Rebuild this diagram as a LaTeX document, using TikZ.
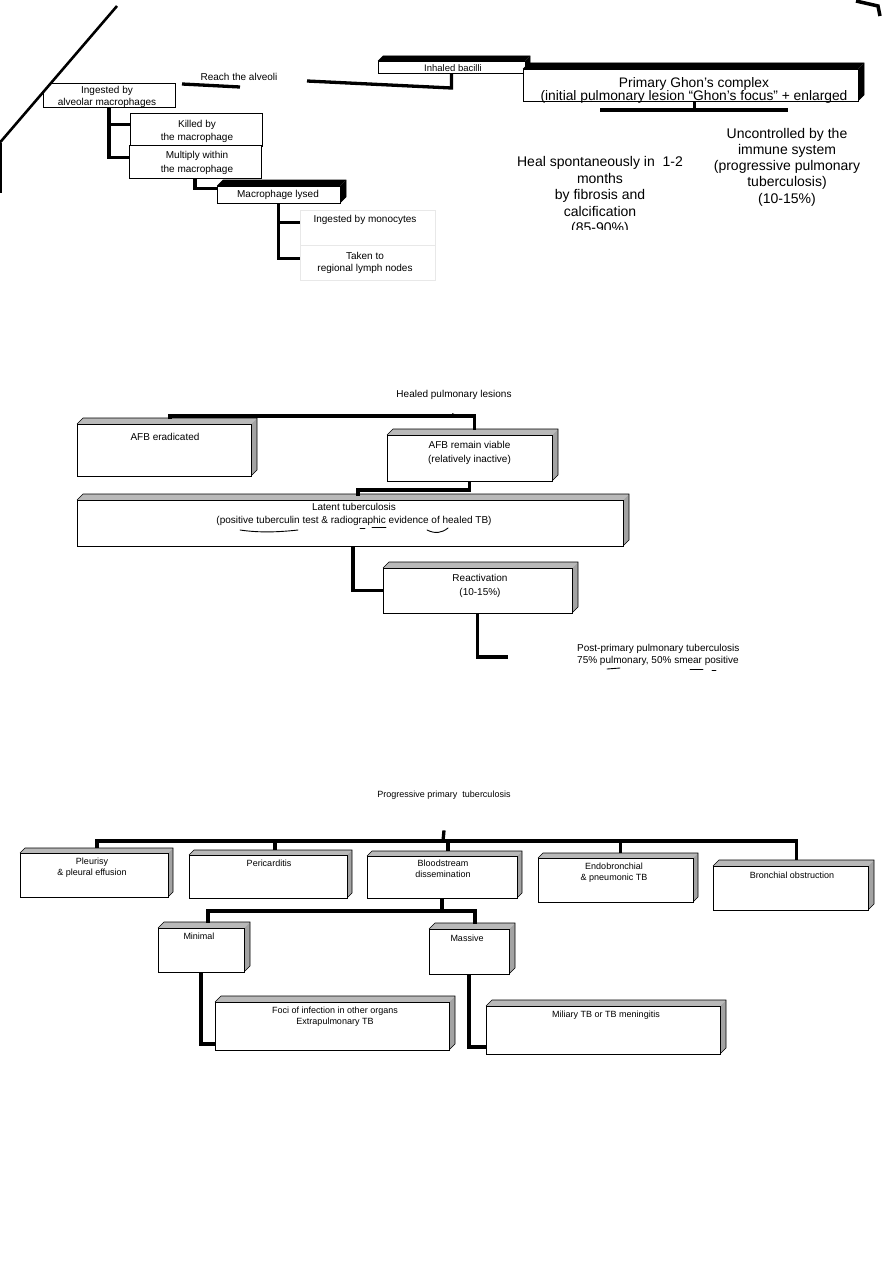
\documentclass[tikz,border=0pt]{standalone}
\usepackage{fontspec}
\setmainfont{Liberation Sans}
\newcommand\tightlines{\lineskiplimit=-30pt\relax}
\tikzset{
 conn/.style={line width=3.3pt, line join=miter},
 facebox/.style={draw, fill=white, line width=0.8pt, inner sep=0pt, outer sep=0pt},
 plainbox/.style={draw, fill=white, line width=0.9pt, inner sep=0pt, outer sep=0pt},
 faintbox/.style={draw=gray!18, line width=0.6pt, inner sep=0pt, outer sep=0pt},
 graytop/.style={fill=gray!55},
 grayside/.style={fill=gray!72},
 blacktop/.style={fill=black},
 blackside/.style={fill=black},
 cubeedge/.style={line width=0.6pt, line join=miter},
 txa/.style={font=\fontsize{10}{12.5}\selectfont, inner sep=0pt, align=center},
 txb/.style={font=\fontsize{14}{16.5}\selectfont, inner sep=0pt, align=center},
 txc/.style={font=\fontsize{9}{11}\selectfont, inner sep=0pt, align=center},
 penmark/.style={line width=0.9pt, line cap=round},
}
% #1 face style prefix, #2 name, #3 x1, #4 y1, #5 x2, #6 y2, #7 depth
\newcommand\cubeshape[7]{%
 \fill[#1top] (#3,#4) -- ({#3+#7},{#4-#7}) -- ({#5+#7},{#4-#7}) -- (#5,#4) -- cycle;
 \fill[#1side] (#5,#4) -- ({#5+#7},{#4-#7}) -- ({#5+#7},{#6-#7}) -- (#5,#6) -- cycle;
 \draw[cubeedge] (#3,#4) -- ({#3+#7},{#4-#7}) -- ({#5+#7},{#4-#7}) -- ({#5+#7},{#6-#7}) -- (#5,#6);
 \node[facebox, minimum width={#5-#3}, minimum height={#6-#4}] (#2) at ({(#3+#5)/2},{(#4+#6)/2}) {};
}
\begin{document}
\begin{tikzpicture}[x=1pt,y=-1pt]
\useasboundingbox (0,0) rectangle (893,1263);
\fill[white] (0,0) rectangle (893,1263);

% ================= Section 1 =================
\node[plainbox, minimum width=132, minimum height=24] (ing) at (109,95) {};
\node[txa, font=\fontsize{10}{12}\selectfont] (ingt) at (107,97) {Ingested by\\alveolar macrophages};
\node[plainbox, minimum width=132, minimum height=33] (killed) at (196,129.5) {};
\node[txa, font=\fontsize{10}{13}\selectfont] (killedt) at (197,131) {Killed by\\the macrophage};
\node[plainbox, minimum width=132, minimum height=33] (mult) at (195,161.5) {};
\node[txa, font=\fontsize{10}{14}\selectfont] (multt) at (197,163) {Multiply within\\the macrophage};

% page edge shadow
\fill[white] (0,0) -- (117,6) -- (-3,146) -- cycle;
\draw[line width=2.6pt] (117,6) -- (-3,146);
\draw[line width=2pt] (1,143) -- (1,193);
\draw[line width=3.5pt] (856,1) -- (878,6) -- (880,16);

% inhaled and Ghon
\cubeshape{black}{inh}{378}{61}{525}{73}{5}
\node[txa, font=\fontsize{9.5}{11}\selectfont] (inht) at (453,68) {Inhaled bacilli};
\cubeshape{black}{ghon}{523}{69}{858}{101}{6}
\node[txb, font=\fontsize{13.8}{13.2}\selectfont\tightlines] (ghont) at (694,90.5)
  {Primary Ghon's complex\\(initial pulmonary lesion “Ghon's focus” + enlarged};

% reach the alveoli
\node[txa] (reach) at (239,77) {Reach the alveoli};
\coordinate (ra) at (182,84);
\coordinate (rb) at (240,87);
\draw[conn] (ra) -- (rb);
\coordinate (reachend) at (307,81);
\draw[conn] (inh.south) -- ++(0,15) -- (reachend);

% Ghon split bar
\coordinate (gl) at (600,110);
\coordinate (gr) at (788,110);
\draw[conn] ([xshift=4pt]ghon.south) -- ++(0,9);
\draw[conn] (gl) -- (gr);

% outcomes
\begin{scope}
\clip (480,140) rectangle (720,229);
\node[txb] (heal) at (600,196) {Heal spontaneously in\ \ 1-2\\months\\by fibrosis and\\calcification\\(85-90\%)};
\end{scope}
\node[txb, font=\fontsize{14}{16.3}\selectfont] (unctl) at (787,167) {Uncontrolled by the\\immune system\\(progressive pulmonary\\tuberculosis)\\(10-15\%)};

% macrophage lysed
\cubeshape{black}{lysed}{217}{186}{340}{203}{6}
\node[txa] (lysedt) at (278,195) {Macrophage lysed};

% faint boxes
\node[faintbox, minimum width=135, minimum height=35] (mono) at (367.5,227.5) {};
\node[txa] (monot) at (365,220) {Ingested by monocytes};
\node[faintbox, minimum width=135, minimum height=35] (lymph) at (367.5,262.5) {};
\node[txa, font=\fontsize{10}{12}\selectfont] (lympht) at (365,263) {Taken to\\regional lymph nodes};

% section 1 connectors
\draw[conn, line width=3.6pt] (ing.south) |- ([yshift=5pt]killed.west);
\draw[conn, line width=3.6pt] (ing.south) |- ([yshift=4pt]mult.west);
\draw[conn, line width=3.6pt] (mult.south) |- ([yshift=6pt]lysed.west);
\draw[conn, line width=3.6pt] (lysed.south) |- ([yshift=5pt]mono.west);
\draw[conn, line width=3.6pt] (lysed.south) |- ([yshift=4pt]lymph.west);

% ================= Section 2 =================
\node[txa] (healed) at (454,395) {Healed pulmonary lesions};
\cubeshape{gray}{afbe}{77}{424}{251}{476}{6}
\node[txa] (afbet) at (165,437) {AFB eradicated};
\cubeshape{gray}{viable}{387}{435}{552}{481}{6}
\node[txa, font=\fontsize{10}{14}\selectfont] (viablet) at (469.5,453) {AFB remain viable\\(relatively inactive)};
\cubeshape{gray}{latent}{77}{500}{623}{546}{6}
\node[txa, font=\fontsize{10}{12.5}\selectfont] (latentt) at (354,514.5) {Latent tuberculosis\\(positive tuberculin test \& radiographic evidence of healed TB)};
\cubeshape{gray}{react}{383}{568}{572}{613}{6}
\node[txa, font=\fontsize{10}{14}\selectfont] (reactt) at (480,585.5) {Reactivation\\(10-15\%)};
\node[txa, anchor=west, align=left, font=\fontsize{10}{12}\selectfont] (post) at (577,654.5) {Post-primary pulmonary tuberculosis\\75\% pulmonary, 50\% smear positive};

\coordinate (hj) at (453,416);
\draw[conn] ([yshift=-14pt]healed.south) -- (hj);
\draw[conn] ([xshift=6pt,yshift=5pt]afbe.north) |- (hj) -| ([xshift=5pt,yshift=5pt]viable.north);
\draw[conn] (viable.south) -- ++(0,9) -| ([xshift=8pt,yshift=4pt]latent.north);
\draw[conn] ([xshift=3pt]latent.south) |- (react.west);
\coordinate (postend) at (508,657);
\draw[conn] (react.south) |- (postend);

% pen marks
\draw[penmark] (240,530) .. controls (260,533) and (280,532) .. (298,530);
\draw[penmark] (360,528) -- (365,528);
\draw[penmark] (372,527) -- (386,527);
\draw[penmark] (427,530) .. controls (435,534) and (442,533) .. (448,528);
\draw[penmark] (607,669) -- (620,668);
\draw[penmark] (690,669) -- (703,669);
\draw[penmark] (712,670) -- (716,670);

% ================= Section 3 =================
\node[txc] (ptitle) at (444,795) {Progressive primary\ \ tuberculosis};
\cubeshape{gray}{pleu}{20}{853}{168}{897}{5}
\node[txc] (pleut) at (92,868) {Pleurisy\\\& pleural effusion};
\cubeshape{gray}{peri}{189}{855}{347}{898}{5}
\node[txc] (perit) at (269,863) {Pericarditis};
\cubeshape{gray}{blood}{367}{856}{517}{898}{5}
\node[txc] (bloodt) at (443,869) {Bloodstream\\dissemination};
\cubeshape{gray}{endo}{538}{858}{693}{902}{5}
\node[txc] (endot) at (614,872.5) {Endobronchial\\\& pneumonic TB};
\cubeshape{gray}{bronch}{713}{866}{868}{910}{6}
\node[txc] (broncht) at (792,875) {Bronchial obstruction};

\cubeshape{gray}{minimal}{158}{928}{244}{972}{6}
\node[txc] (minimalt) at (199,936) {Minimal};
\cubeshape{gray}{massive}{429}{929}{509}{974}{6}
\node[txc] (massivet) at (467,938) {Massive};
\cubeshape{gray}{foci}{215}{1002}{449}{1050}{6}
\node[txc] (focit) at (335,1017) {Foci of infection in other organs\\Extrapulmonary TB};
\cubeshape{gray}{miliary}{486}{1006}{720}{1054}{6}
\node[txc] (miliaryt) at (606,1015) {Miliary TB or TB meningitis};

\coordinate (pj) at (443,841);
\draw[conn] ([yshift=-31pt]ptitle.south) -- (pj);
\draw[conn] (pj) -| ([xshift=3pt,yshift=5pt]pleu.north);
\draw[conn] (pj) -| ([xshift=7pt,yshift=5pt]peri.north);
\draw[conn] (pj) -| ([xshift=6pt,yshift=5pt]blood.north);
\draw[conn] (pj) -| ([xshift=5pt,yshift=5pt]endo.north);
\draw[conn] (pj) -| ([xshift=6pt,yshift=6pt]bronch.north);

\coordinate (bj) at (442,911);
\draw[conn] (blood.south) -- (bj);
\draw[conn] (bj) -| ([xshift=7pt,yshift=5pt]minimal.north);
\draw[conn] (bj) -| ([xshift=6pt,yshift=5pt]massive.north);
\draw[conn] (minimal.south) |- ([yshift=-18pt]foci.west);
\draw[conn] (massive.south) |- ([yshift=-17pt]miliary.west);
\end{tikzpicture}
\end{document}
